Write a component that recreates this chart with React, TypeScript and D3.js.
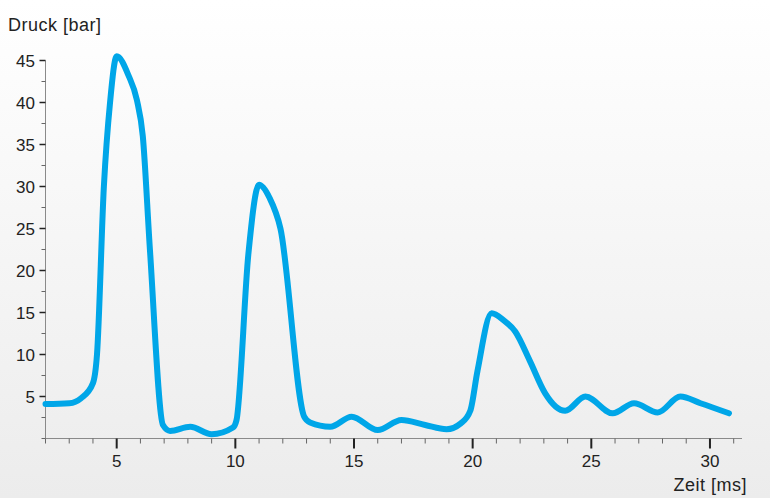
import React, { useEffect, useRef } from 'react';
import * as d3 from 'd3';

// Druckverlauf: Zeit [ms] -> Druck [bar]
const timeMs = [
  2, 3, 3.5, 4, 4.17, 4.46, 4.72, 5, 5.5, 5.85, 6.1, 6.4, 6.95, 7.25, 8.1, 9, 9.9,
  10.05, 10.55, 11, 11.45, 11.9, 12.9, 13.15, 14, 14.9, 16, 17, 18, 18.9, 19.5,
  19.9, 20.2, 20.8, 21.3, 21.8, 22.4, 23.05, 23.5, 23.9, 24.75, 25.9, 26.8, 27.8,
  28.75, 29.6, 30.8,
];
const pressureBar = [
  4.1, 4.2, 4.8, 6.6, 10, 30, 40, 45.5, 43.2, 40.3, 36, 22.5, 1.6, 0.9, 1.4, 0.5, 1.3,
  2.2, 22, 30.2, 28.6, 25, 2.6, 1.9, 1.4, 2.6, 1.0, 2.2, 1.6, 1.1, 1.8,
  3.3, 8.0, 14.9, 14.1, 12.7, 9.3, 5.4, 3.8, 3.3, 5.0, 3.0, 4.2, 3.1,
  5.0, 4.2, 3.0,
];

const xMajorTicks = [5, 10, 15, 20, 25, 30];
const yMajorTicks = [5, 10, 15, 20, 25, 30, 35, 40, 45];

const yTitle = 'Druck [bar]';
const xTitle = 'Zeit [ms]';

const W = 770;
const H = 498;

export default function App() {
  const svgRef = useRef<SVGSVGElement>(null);

  useEffect(() => {
    if (!svgRef.current) return;
    const svg = d3.select(svgRef.current);
    svg.selectAll('*').remove();

    const font = '"Liberation Sans", Arial, sans-serif';

    // background gradient
    const defs = svg.append('defs');
    const grad = defs.append('linearGradient')
      .attr('id', 'bg')
      .attr('x1', 0).attr('y1', 0).attr('x2', 0).attr('y2', 1);
    grad.append('stop').attr('offset', '0%').attr('stop-color', '#ffffff');
    grad.append('stop').attr('offset', '100%').attr('stop-color', '#ececec');
    svg.append('rect').attr('width', W).attr('height', H).attr('fill', 'url(#bg)');

    const xScale = d3.scaleLinear().domain([2, 31.35]).range([45.5, 742]);
    const yScale = d3.scaleLinear().domain([0, 45]).range([438.5, 60.5]);

    const g = svg.append('g');

    // axis lines
    g.append('line')
      .attr('x1', xScale(2)).attr('x2', xScale(31.35))
      .attr('y1', yScale(0)).attr('y2', yScale(0))
      .attr('stroke', '#8a8a8a').attr('stroke-width', 1);
    g.append('line')
      .attr('x1', xScale(2)).attr('x2', xScale(2))
      .attr('y1', yScale(0)).attr('y2', yScale(45))
      .attr('stroke', '#8a8a8a').attr('stroke-width', 1);

    // x ticks
    const xMinor = d3.range(2, 32, 1).filter(v => !xMajorTicks.includes(v));
    g.selectAll('.xminor').data(xMinor).enter().append('line')
      .attr('x1', d => xScale(d)).attr('x2', d => xScale(d))
      .attr('y1', yScale(0)).attr('y2', yScale(0) + 5)
      .attr('stroke', '#666').attr('stroke-width', 1);
    g.selectAll('.xmajor').data(xMajorTicks).enter().append('line')
      .attr('x1', d => xScale(d)).attr('x2', d => xScale(d))
      .attr('y1', yScale(0)).attr('y2', yScale(0) + 10)
      .attr('stroke', '#222').attr('stroke-width', 2);
    g.selectAll('.xlabel').data(xMajorTicks).enter().append('text')
      .attr('x', d => xScale(d)).attr('y', 467)
      .attr('text-anchor', 'middle')
      .attr('font-family', font).attr('font-size', 17).attr('fill', '#222')
      .text(d => d);

    // y ticks
    const yMinor = d3.range(0, 45, 2.5).filter(v => !yMajorTicks.includes(v));
    g.selectAll('.yminor').data(yMinor).enter().append('line')
      .attr('x1', xScale(2) - 4).attr('x2', xScale(2))
      .attr('y1', d => yScale(d)).attr('y2', d => yScale(d))
      .attr('stroke', '#666').attr('stroke-width', 1);
    g.selectAll('.ymajor').data(yMajorTicks).enter().append('line')
      .attr('x1', xScale(2) - 6).attr('x2', xScale(2))
      .attr('y1', d => yScale(d)).attr('y2', d => yScale(d))
      .attr('stroke', '#222').attr('stroke-width', 1.5);
    g.selectAll('.ylabel').data(yMajorTicks).enter().append('text')
      .attr('x', 35).attr('y', d => yScale(d) + 6)
      .attr('text-anchor', 'end')
      .attr('font-family', font).attr('font-size', 17).attr('fill', '#222')
      .text(d => d);

    // titles
    svg.append('text')
      .attr('x', 8).attr('y', 31)
      .attr('font-family', font).attr('font-size', 18).attr('letter-spacing', 0.5)
      .attr('fill', '#222')
      .text(yTitle);
    svg.append('text')
      .attr('x', 747).attr('y', 491)
      .attr('text-anchor', 'end')
      .attr('font-family', font).attr('font-size', 18).attr('letter-spacing', 0.5)
      .attr('fill', '#222')
      .text(xTitle);

    // curve
    const pts: [number, number][] = timeMs.map((t, i) => [t, pressureBar[i]]);
    const line = d3.line<[number, number]>()
      .x(d => xScale(d[0]))
      .y(d => yScale(d[1]))
      .curve(d3.curveMonotoneX);

    g.append('path')
      .datum(pts)
      .attr('fill', 'none')
      .attr('stroke', '#00a6e8')
      .attr('stroke-width', 6)
      .attr('stroke-linecap', 'round')
      .attr('stroke-linejoin', 'round')
      .attr('d', line);
  }, []);

  return (
    <svg
      ref={svgRef}
      width={W}
      height={H}
      style={{ position: 'absolute', left: 0, top: 0, display: 'block' }}
    />
  );
}
